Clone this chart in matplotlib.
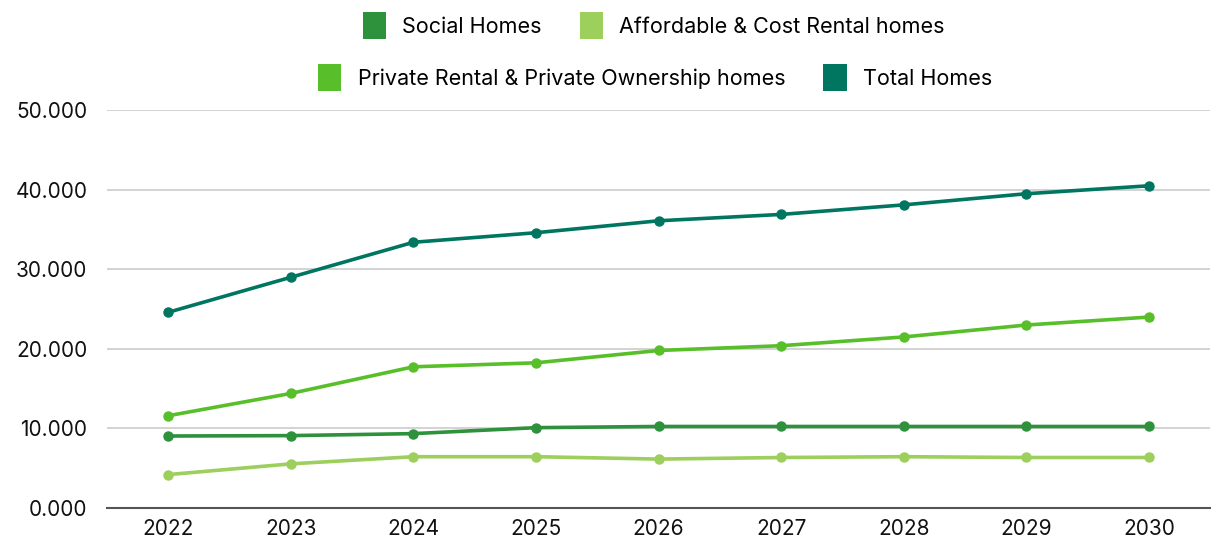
import matplotlib.pyplot as plt
from matplotlib.patches import Patch
from matplotlib.ticker import FuncFormatter

plt.rcParams['font.family'] = ['Inter', 'DejaVu Sans']

# housing delivery by tenure, 2022-2030
years = ['2022', '2023', '2024', '2025', '2026', '2027', '2028', '2029', '2030']
social = [9050, 9100, 9350, 10100, 10250, 10250, 10250, 10250, 10250]
affordable = [4200, 5550, 6450, 6450, 6150, 6350, 6450, 6350, 6350]
private = [11600, 14400, 17750, 18250, 19800, 20400, 21500, 23000, 24000]
total = [24600, 29000, 33400, 34600, 36100, 36900, 38100, 39500, 40500]

labels = ['Social Homes', 'Affordable & Cost Rental homes',
          'Private Rental & Private Ownership homes', 'Total Homes']
colors = ['#2e913c', '#9ccf5b', '#58bf2b', '#007660']

fig = plt.figure(figsize=(12.15, 5.51), dpi=100)
ax = fig.add_axes([0.088, 0.078, 0.908, 0.722])

x = range(len(years))
for vals, c in zip([social, affordable, private, total], colors):
    ax.plot(x, vals, color=c, lw=2.6, marker='o', ms=6.5, zorder=3, clip_on=False)

ax.set_xlim(-0.5, len(years) - 0.5)
ax.set_ylim(0, 50000)
ax.set_yticks(range(0, 50001, 10000))
ax.yaxis.set_major_formatter(FuncFormatter(lambda v, p: f'{v / 1000:.3f}'))
ax.set_xticks(list(x))
ax.set_xticklabels(years)
ax.grid(axis='y', color='#cccccc', lw=1.2)
ax.set_axisbelow(True)
for s in ['top', 'right', 'left']:
    ax.spines[s].set_visible(False)
ax.spines['bottom'].set_color('#555555')
ax.spines['bottom'].set_linewidth(1.5)
ax.tick_params(axis='both', length=0, labelsize=15, colors='#111111')
ax.tick_params(axis='y', pad=14)
ax.tick_params(axis='x', pad=8)

handles = [Patch(facecolor=c) for c in colors]
leg_kw = dict(ncol=2, frameon=False, fontsize=15.5, handlelength=1.1,
              handleheight=1.55, handletextpad=0.75, columnspacing=1.75)
fig.legend(handles[:2], labels[:2], loc='center', bbox_to_anchor=(0.538, 0.953), **leg_kw)
fig.legend(handles[2:], labels[2:], loc='center', bbox_to_anchor=(0.539, 0.859), **leg_kw)

fig.savefig('out.png', dpi=100)
